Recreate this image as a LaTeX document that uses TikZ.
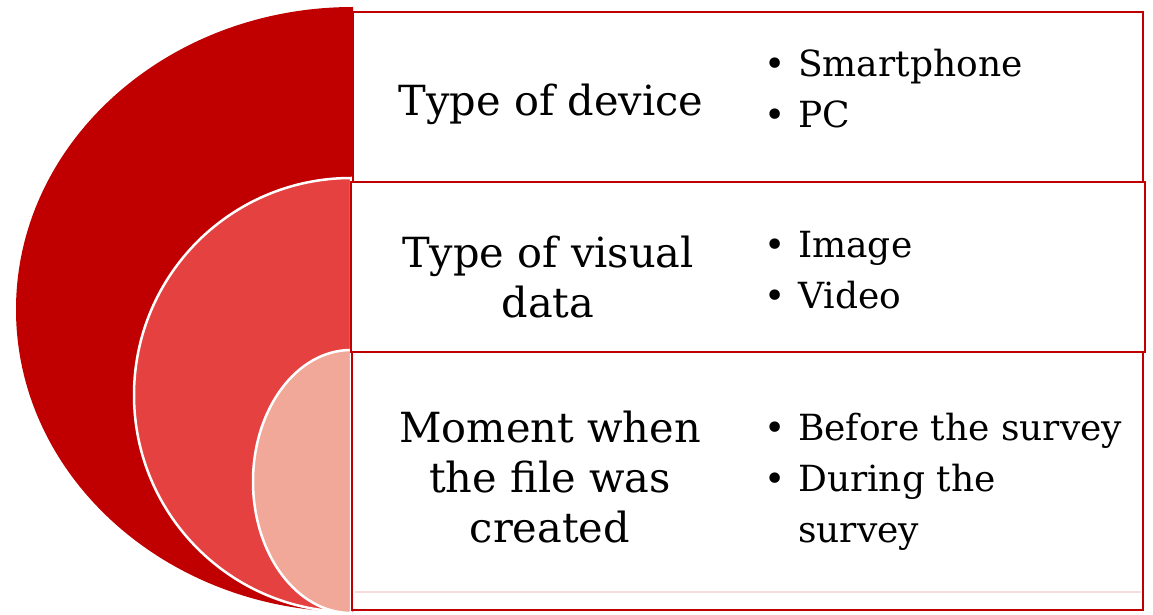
\documentclass[tikz,border=0pt]{standalone}
\usepackage{fontspec}
\setmainfont{DejaVu Serif}
\definecolor{dred}{HTML}{C00000}
\definecolor{mred}{HTML}{E54141}
\definecolor{lred}{HTML}{F1A899}
\definecolor{faint}{HTML}{F8DCDC}
\newcommand{\bul}{\makebox[34pt][l]{\textbullet}}
\begin{document}
\begin{tikzpicture}[x=1pt,y=-1pt,
  lobe/.style={draw=white,line width=2.5pt},
  panel/.style={draw=dred,fill=white,line width=2.6pt},
  title/.style={font=\fontsize{41.5}{50}\selectfont,align=center,anchor=base,inner sep=0pt},
  items/.style={font=\fontsize{36}{51}\selectfont,align=left,anchor=base west,inner sep=0pt}]
\useasboundingbox (0,0) rectangle (1153,615);
% lobes
\fill[dred] (353,612) arc[start angle=90,end angle=270,x radius=337,y radius=302.5] -- cycle;
\path[lobe,fill=mred] (351,612) arc[start angle=90,end angle=270,x radius=217,y radius=217] -- cycle;
\path[lobe,fill=lred] (351,613) arc[start angle=90,end angle=270,x radius=98,y radius=131.5] -- cycle;
% panels
\draw[panel] (353,12) rectangle (1143,182);
\draw[panel] (351,182) rectangle (1145,352);
\draw[panel] (352,352) rectangle (1143,610);
\draw[faint,line width=1.5pt] (355,592) -- (1141,592);
% texts (base anchor = baseline of the last line)
\node[title] (t1) at (551,116) {Type of device};
\node[title] (t2) at (548,317) {Type of visual\\data};
\node[title] (t3) at (550,542) {Moment when\\the file was\\created};
\node[items] (i1) at (764,128) {\bul Smartphone\\\bul PC};
\node[items] (i2) at (764,308) {\bul Image\\\bul Video};
\node[items] (i3) at (764,542) {\bul Before the survey\\\bul During the\\\hspace*{34pt}survey};
\end{tikzpicture}
\end{document}
